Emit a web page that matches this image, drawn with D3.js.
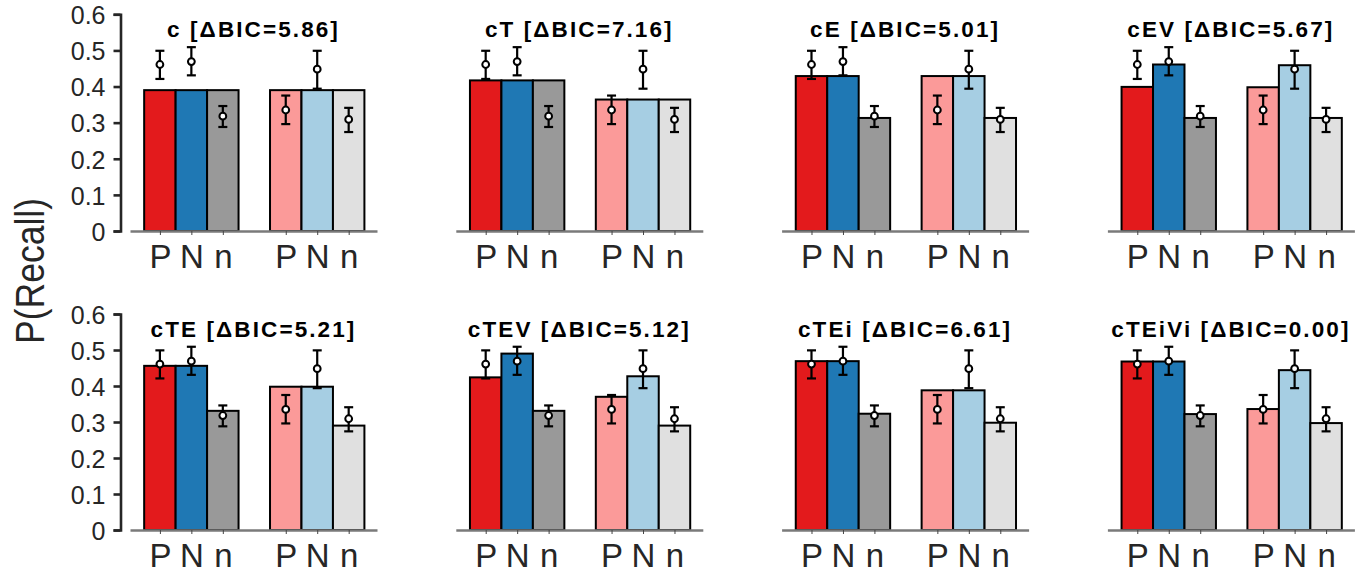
<!DOCTYPE html>
<html>
<head>
<meta charset="utf-8">
<script src="https://cdn.jsdelivr.net/npm/d3@7"></script>
<style>
  body { margin: 0; background: #fff; }
  text { font-family: "Liberation Sans", Arial, sans-serif; }
</style>
</head>
<body>
<div id="chart"></div>
<script>
// condition labels under the bars, and bar positions (1,2,3 | 5,6,7)
const barLabels = ["P", "N", "n", "P", "N", "n"];
const barPos = [1, 2, 3, 5, 6, 7];
const barColors = ["#e31a1c", "#1f78b4", "#999999", "#fb9a99", "#a6cee3", "#e0e0e0"];

// observed recall (same in every panel), with error bar ends
const obsMean = [0.461, 0.469, 0.318, 0.335, 0.448, 0.309];
const obsLow  = [0.421, 0.431, 0.288, 0.296, 0.394, 0.274];
const obsHigh = [0.499, 0.509, 0.346, 0.375, 0.499, 0.341];

// model names, delta BIC and predictions
const models = ["c", "cT", "cE", "cEV", "cTE", "cTEV", "cTEi", "cTEiVi"];
const deltaBIC = ["5.86", "7.16", "5.01", "5.67", "5.21", "5.12", "6.61", "0.00"];
const predC      = [0.390, 0.390, 0.390, 0.390, 0.390, 0.390];
const predCT     = [0.417, 0.417, 0.417, 0.364, 0.364, 0.364];
const predCE     = [0.429, 0.429, 0.313, 0.429, 0.429, 0.313];
const predCEV    = [0.399, 0.461, 0.313, 0.398, 0.459, 0.313];
const predCTE    = [0.456, 0.456, 0.331, 0.398, 0.398, 0.290];
const predCTEV   = [0.424, 0.490, 0.331, 0.370, 0.427, 0.290];
const predCTEi   = [0.469, 0.469, 0.323, 0.388, 0.388, 0.298];
const predCTEiVi = [0.468, 0.468, 0.322, 0.336, 0.444, 0.297];
const predictions = [predC, predCT, predCE, predCEV, predCTE, predCTEV, predCTEi, predCTEiVi];

const yTicks = [0, 0.1, 0.2, 0.3, 0.4, 0.5, 0.6];

const W = 1362, H = 574;
const svg = d3.select("#chart").append("svg")
  .attr("width", W).attr("height", H);

const colStep = 325.8;
const rowTops = [14.3, 314];
const rowBottoms = [231, 530];

models.forEach(function(name, k) {
  const col = k % 4, row = Math.floor(k / 4);
  const left = 130 + colStep * col;
  const x = d3.scaleLinear().domain([0.05, 7.9]).range([left, left + 247]);
  const y = d3.scaleLinear().domain([0, 0.6]).range([rowBottoms[row], rowTops[row]]);
  const bw = x(1) - x(0);
  const g = svg.append("g");
  const pred = predictions[k];

  // bars
  g.selectAll("rect.bar").data(pred).join("rect")
    .attr("class", "bar")
    .attr("x", (d, i) => x(barPos[i]) - bw / 2)
    .attr("y", d => y(d))
    .attr("width", bw)
    .attr("height", d => y(0) - y(d))
    .attr("fill", (d, i) => barColors[i])
    .attr("stroke", "#000")
    .attr("stroke-width", 2);

  // x axis (gray baseline, small ticks, P N n labels)
  const xAxis = g.append("g")
    .attr("transform", "translate(0," + y(0) + ")")
    .call(d3.axisBottom(x).tickValues(barPos)
      .tickFormat((d, i) => barLabels[i])
      .tickSize(4).tickSizeOuter(0).tickPadding(10));
  xAxis.select(".domain").attr("stroke", "#7a7a7a").attr("stroke-width", 2.6);
  xAxis.selectAll(".tick line").attr("stroke", "#444").attr("stroke-width", 1);
  xAxis.selectAll(".tick text")
    .attr("fill", "#262626")
    .style("font-size", "33px")
    .style("font-family", "'Liberation Sans', Arial, sans-serif");

  // error bars and observed means
  const cap = 4.5;
  const eb = g.selectAll("g.err").data(obsMean).join("g").attr("class", "err");
  eb.append("line")
    .attr("x1", (d, i) => x(barPos[i])).attr("x2", (d, i) => x(barPos[i]))
    .attr("y1", (d, i) => y(obsLow[i])).attr("y2", (d, i) => y(obsHigh[i]));
  eb.append("line")
    .attr("x1", (d, i) => x(barPos[i]) - cap).attr("x2", (d, i) => x(barPos[i]) + cap)
    .attr("y1", (d, i) => y(obsLow[i])).attr("y2", (d, i) => y(obsLow[i]));
  eb.append("line")
    .attr("x1", (d, i) => x(barPos[i]) - cap).attr("x2", (d, i) => x(barPos[i]) + cap)
    .attr("y1", (d, i) => y(obsHigh[i])).attr("y2", (d, i) => y(obsHigh[i]));
  eb.selectAll("line").attr("stroke", "#000").attr("stroke-width", 2.2);
  eb.append("circle")
    .attr("cx", (d, i) => x(barPos[i]))
    .attr("cy", d => y(d))
    .attr("r", 3.4)
    .attr("fill", "#fff")
    .attr("stroke", "#000")
    .attr("stroke-width", 2);

  // title
  g.append("text")
    .attr("x", (x.range()[0] + x.range()[1]) / 2)
    .attr("y", y(0.6) + 23)
    .attr("text-anchor", "middle")
    .style("font-size", "22.5px")
    .style("font-weight", "bold")
    .style("font-family", "'Liberation Sans', Arial, sans-serif")
    .style("letter-spacing", "2.1px")
    .text(name + " [\u0394BIC=" + deltaBIC[k] + "]");

  // y axis only on the left column
  if (col === 0) {
    const yAxis = g.append("g")
      .attr("transform", "translate(120.5,0)")
      .call(d3.axisLeft(y).tickValues(yTicks)
        .tickFormat(d => d === 0 ? "0" : d3.format(".1f")(d))
        .tickSize(7).tickSizeOuter(7).tickPadding(8));
    yAxis.select(".domain").attr("stroke", "#262626").attr("stroke-width", 2.6);
    yAxis.selectAll(".tick line").attr("stroke", "#262626").attr("stroke-width", 2.6);
    yAxis.selectAll(".tick text")
      .attr("fill", "#262626")
      .attr("dy", "0.37em")
      .style("font-size", "25px")
      .style("font-family", "'Liberation Sans', Arial, sans-serif");
  }
});

// shared y label
svg.append("text")
  .attr("transform", "translate(44,271) rotate(-90)")
  .attr("text-anchor", "middle")
  .attr("fill", "#262626")
  .attr("textLength", 146)
  .attr("lengthAdjust", "spacingAndGlyphs")
  .style("font-size", "41px")
  .text("P(Recall)");
</script>
</body>
</html>
